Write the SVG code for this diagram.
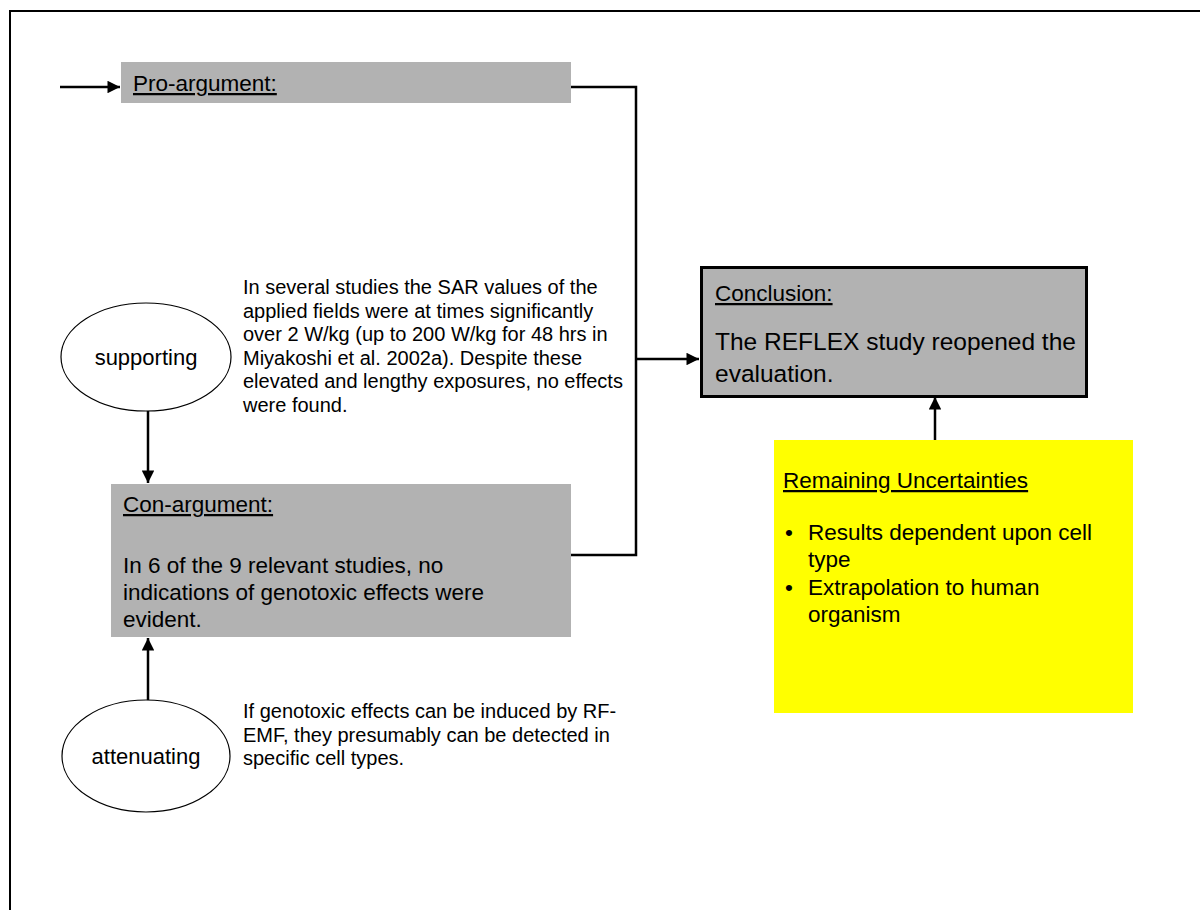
<svg xmlns="http://www.w3.org/2000/svg" width="1200" height="910" viewBox="0 0 1200 910">
  <style>
    text { font-family: "Liberation Sans", Arial, sans-serif; fill: #000; }
    .u { text-decoration: underline; }
    .grey { fill: #b2b2b2; }
    .conn { fill: none; stroke: #000; stroke-width: 2.5; }
    .oval { fill: #fff; stroke: #000; stroke-width: 1.2; }
    .note { font-size: 20px; }
    .lbl { font-size: 22px; }
    .mid { font-size: 22.5px; }
    .big { font-size: 24.5px; }
  </style>
  <defs>
    <marker id="ah" viewBox="0 0 10 10" refX="10" refY="5" markerWidth="5.2" markerHeight="5" markerUnits="strokeWidth" orient="auto">
      <path d="M0,0 L10,5 L0,10 Z" fill="#000"/>
    </marker>
  </defs>

  <rect width="1200" height="910" fill="#fff"/>
  <!-- page frame (open on the right and bottom) -->
  <path d="M1202,11 H10 V912" fill="none" stroke="#000" stroke-width="2"/>

  <g id="pro">
    <rect class="grey" x="121" y="62" width="450" height="41"/>
    <text class="mid u" x="133" y="91">Pro-argument:</text>
  </g>

  <g id="supporting">
    <ellipse class="oval" cx="146" cy="357" rx="85" ry="54"/>
    <text class="lbl" x="146" y="365" text-anchor="middle">supporting</text>
  </g>

  <g id="supporting-note">
    <text class="note" x="243" y="294">In several studies the SAR values of the</text>
    <text class="note" x="243" y="317.5">applied fields were at times significantly</text>
    <text class="note" x="243" y="341">over 2 W/kg (up to 200 W/kg for 48 hrs in</text>
    <text class="note" x="243" y="364.5">Miyakoshi et al. 2002a). Despite these</text>
    <text class="note" x="243" y="388">elevated and lengthy exposures, no effects</text>
    <text class="note" x="243" y="411.5">were found.</text>
  </g>

  <g id="con">
    <rect class="grey" x="111" y="484" width="460" height="153"/>
    <text class="mid u" x="123" y="512">Con-argument:</text>
    <text class="mid" x="123" y="573">In 6 of the 9 relevant studies, no</text>
    <text class="mid" x="123" y="600">indications of genotoxic effects were</text>
    <text class="mid" x="123" y="627">evident.</text>
  </g>

  <g id="attenuating">
    <ellipse class="oval" cx="146" cy="756" rx="84" ry="56"/>
    <text class="lbl" x="146" y="764" text-anchor="middle">attenuating</text>
  </g>

  <g id="attenuating-note">
    <text class="note" x="243" y="718">If genotoxic effects can be induced by RF-</text>
    <text class="note" x="243" y="741.5">EMF, they presumably can be detected in</text>
    <text class="note" x="243" y="765">specific cell types.</text>
  </g>

  <g id="conclusion">
    <rect x="701.5" y="267.5" width="385" height="129" fill="#b2b2b2" stroke="#000" stroke-width="3"/>
    <text class="mid u" x="715" y="301">Conclusion:</text>
    <text class="big" x="715" y="350">The REFLEX study reopened the</text>
    <text class="big" x="715" y="382">evaluation.</text>
  </g>

  <g id="uncertainties">
    <rect x="774" y="440" width="359" height="273" fill="#ffff00"/>
    <text class="mid u" x="783" y="488">Remaining Uncertainties</text>
    <text class="mid" x="785" y="540">•</text>
    <text class="mid" x="808" y="540">Results dependent upon cell</text>
    <text class="mid" x="808" y="567">type</text>
    <text class="mid" x="785" y="595">•</text>
    <text class="mid" x="808" y="595">Extrapolation to human</text>
    <text class="mid" x="808" y="622">organism</text>
  </g>

  <g id="connectors">
    <line class="conn" x1="60" y1="87" x2="120" y2="87" marker-end="url(#ah)"/>
    <polyline class="conn" points="571,87 636,87 636,555 571,555"/>
    <line class="conn" x1="636" y1="359" x2="699" y2="359" marker-end="url(#ah)"/>
    <line class="conn" x1="148" y1="411" x2="148" y2="483" marker-end="url(#ah)"/>
    <line class="conn" x1="148" y1="700" x2="148" y2="638" marker-end="url(#ah)"/>
    <line class="conn" x1="935" y1="440" x2="935" y2="397" marker-end="url(#ah)"/>
  </g>
</svg>
